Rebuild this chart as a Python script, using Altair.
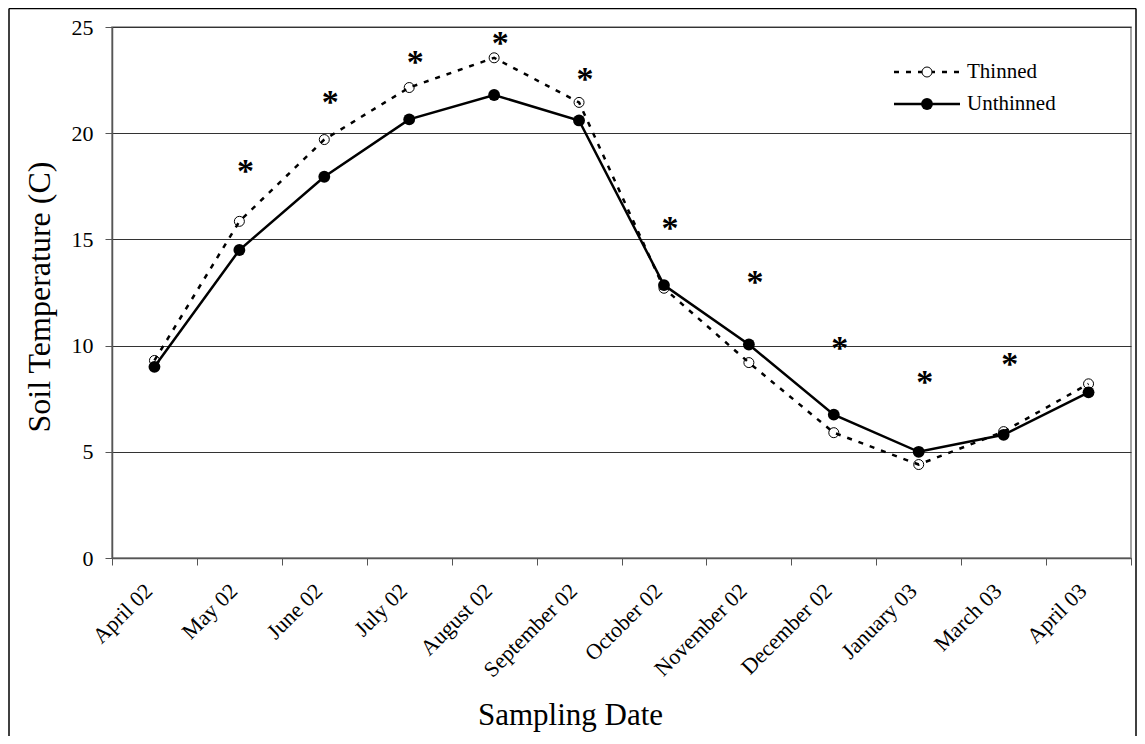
import altair as alt
import pandas as pd

months = ["April 02", "May 02", "June 02", "July 02", "August 02", "September 02",
          "October 02", "November 02", "December 02", "January 03", "March 03", "April 03"]
thinned = [9.3, 15.85, 19.7, 22.15, 23.55, 21.45, 12.7, 9.2, 5.9, 4.4, 5.95, 8.2]
unthinned = [9.0, 14.5, 17.95, 20.65, 21.8, 20.6, 12.85, 10.05, 6.75, 5.0, 5.8, 7.8]
star_months = ["May 02", "June 02", "July 02", "August 02", "September 02",
               "October 02", "November 02", "December 02", "January 03", "March 03"]
star_heights = [18.45, 21.7, 23.6, 24.5, 22.8, 15.75, 13.25, 10.1, 8.5, 9.35]

FONT = "Liberation Serif"

df = pd.DataFrame({
    "Month": months * 2,
    "Temp": thinned + unthinned,
    "Treatment": ["Thinned"] * len(months) + ["Unthinned"] * len(months),
})
stars = pd.DataFrame({"Month": star_months, "Temp": star_heights, "Mark": ["*"] * len(star_months)})

W, H = 1019, 531

x_enc = alt.X("Month:N", sort=months, bandPosition=0.5,
              scale=alt.Scale(type="band", paddingInner=0, paddingOuter=0, domain=months),
              axis=alt.Axis(title="Sampling Date", labelAngle=-45, tickBand="extent",
                            labelFont=FONT, labelFontSize=22, labelColor="black",
                            labelBaseline="middle", labelOffset=-6,
                            titleFont=FONT, titleFontSize=31, titleFontWeight="normal",
                            titleColor="black", titleX=458, titleY=166, titleAlign="center",
                            titleBaseline="alphabetic", labelPadding=22,
                            tickSize=7, tickColor="#555", domainColor="#555",
                            domainWidth=1.5, grid=False))
y_enc = alt.Y("Temp:Q", scale=alt.Scale(domain=[0, 25], nice=False),
              axis=alt.Axis(title="Soil Temperature (C)", values=[0, 5, 10, 15, 20, 25],
                            labelFont=FONT, labelFontSize=22, labelColor="black",
                            titleFont=FONT, titleFontSize=32, titleFontWeight="normal",
                            titleColor="black", titleX=-73, titleY=269.5, titleAngle=270,
                            titleAlign="center", titleBaseline="middle", labelPadding=12,
                            tickSize=7, tickColor="#555", domainColor="#555",
                            domainWidth=1.5, grid=True, gridColor="#333", gridWidth=1))

base = alt.Chart(df)

thin_line = base.transform_filter(alt.datum.Treatment == "Thinned").mark_line(
    color="black", strokeWidth=2.5, strokeDash=[5, 7]).encode(x=x_enc, y=y_enc)
thin_pts = base.transform_filter(alt.datum.Treatment == "Thinned").mark_point(
    shape="circle", filled=False, color="black", strokeWidth=1, size=100, opacity=1).encode(x=x_enc, y=y_enc)
un_line = base.transform_filter(alt.datum.Treatment == "Unthinned").mark_line(
    color="black", strokeWidth=2.5).encode(x=x_enc, y=y_enc)
un_pts = base.transform_filter(alt.datum.Treatment == "Unthinned").mark_point(
    shape="circle", filled=True, color="black", size=140, opacity=1).encode(x=x_enc, y=y_enc)

star_layer = alt.Chart(stars).mark_text(font=FONT, fontSize=34, color="black", fontWeight="bold",
                                        baseline="alphabetic", dy=16, dx=6).encode(
    x=alt.X("Month:N", sort=months, bandPosition=0.5), y="Temp:Q", text="Mark:N")

# legend (drawn manually, top-right inside plot)
leg = pd.DataFrame({"label": ["Thinned", "Unthinned"]})
lx1, lx2, lcx, ltx = 782, 848, 815, 855
r1, r2 = 45, 77
leg_layers = [
    alt.Chart(leg).transform_filter(alt.datum.label == "Thinned").mark_rule(
        color="black", strokeWidth=2.5, strokeDash=[5, 7]).encode(
        x=alt.value(lx1), x2=alt.value(lx2), y=alt.value(r1)),
    alt.Chart(leg).transform_filter(alt.datum.label == "Thinned").mark_point(
        shape="circle", filled=True, fill="white", stroke="black", strokeWidth=1, size=100, opacity=1).encode(
        x=alt.value(lcx), y=alt.value(r1)),
    alt.Chart(leg).transform_filter(alt.datum.label == "Thinned").mark_text(
        font=FONT, fontSize=21, align="left", baseline="middle", color="black").encode(
        x=alt.value(ltx), y=alt.value(r1), text="label:N"),
    alt.Chart(leg).transform_filter(alt.datum.label == "Unthinned").mark_rule(
        color="black", strokeWidth=2.5).encode(
        x=alt.value(lx1), x2=alt.value(lx2), y=alt.value(r2)),
    alt.Chart(leg).transform_filter(alt.datum.label == "Unthinned").mark_point(
        shape="circle", filled=True, color="black", size=140, opacity=1).encode(
        x=alt.value(lcx), y=alt.value(r2)),
    alt.Chart(leg).transform_filter(alt.datum.label == "Unthinned").mark_text(
        font=FONT, fontSize=21, align="left", baseline="middle", color="black").encode(
        x=alt.value(ltx), y=alt.value(r2), text="label:N"),
]

# outer frame: top, left, right (bottom edge is cut off in the original)
one = leg.head(1)
frame_layers = [
    alt.Chart(one).mark_rule(color="black", strokeWidth=1.5, clip=False).encode(
        x=alt.value(-103), x2=alt.value(W + 5), y=alt.value(-18.5)),
    alt.Chart(one).mark_rule(color="black", strokeWidth=1.5, clip=False).encode(
        x=alt.value(-103), y=alt.value(-18.5), y2=alt.value(H + 180)),
    alt.Chart(one).mark_rule(color="black", strokeWidth=1.5, clip=False).encode(
        x=alt.value(W + 5), y=alt.value(-18.5), y2=alt.value(H + 180)),
]

chart = alt.layer(thin_line, thin_pts, un_line, un_pts, star_layer, *leg_layers, *frame_layers).properties(
    width=W, height=H,
    padding={"left": 104, "top": 19, "right": 6, "bottom": 178},
    autosize=alt.AutoSizeParams(type="none"),
    background="white",
).configure_view(stroke="#888", strokeWidth=1.5)

chart.save("out.html", embed_options={"renderer": "svg", "actions": False})
